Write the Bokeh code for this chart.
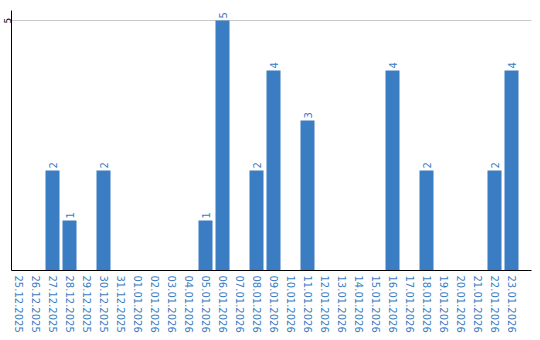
import math
from bokeh.plotting import figure
from bokeh.models import Range1d, FixedTicker, ColumnDataSource
from bokeh.embed import file_html
from bokeh.resources import INLINE
from bokeh.core.properties import value

dates = ["25.12.2025", "26.12.2025", "27.12.2025", "28.12.2025", "29.12.2025",
         "30.12.2025", "31.12.2025", "01.01.2026", "02.01.2026", "03.01.2026",
         "04.01.2026", "05.01.2026", "06.01.2026", "07.01.2026", "08.01.2026",
         "09.01.2026", "10.01.2026", "11.01.2026", "12.01.2026", "13.01.2026",
         "14.01.2026", "15.01.2026", "16.01.2026", "17.01.2026", "18.01.2026",
         "19.01.2026", "20.01.2026", "21.01.2026", "22.01.2026", "23.01.2026"]
counts = [0, 0, 2, 1, 0, 2, 0, 0, 0, 0,
          0, 1, 5, 0, 2, 4, 0, 3, 0, 0,
          0, 0, 4, 0, 2, 0, 0, 0, 2, 4]
y_ticks = [5]

BLUE = "#3b7dc2"
FONT = "DejaVu Sans"

idx = list(range(len(dates)))
nz = [i for i in idx if counts[i] > 0]
src = ColumnDataSource(dict(x=[i for i in nz], top=[counts[i] for i in nz],
                            lbl=[str(counts[i]) for i in nz]))

bar_w = 14 / 17
p = figure(width=540, height=340, output_backend="svg", toolbar_location=None,
           x_range=Range1d(-bar_w / 2, -bar_w / 2 + 520 / 17),
           y_range=Range1d(0, 5.2),
           min_border_left=11, min_border_right=9, min_border_top=10, min_border_bottom=70)
p.outline_line_color = None
p.background_fill_color = "white"
p.border_fill_color = "white"

p.vbar(x="x", top="top", bottom=0, width=bar_w, source=src,
       fill_color=BLUE, line_color=None)
p.text(x="x", y="top", text="lbl", source=src, angle=math.pi / 2,
       text_align="left", text_baseline="middle", y_offset=-2,
       text_color=BLUE, text_font=value(FONT), text_font_size="10px")

p.xgrid.visible = False
p.ygrid.ticker = FixedTicker(ticks=y_ticks)
p.ygrid.grid_line_color = "#c8c8c8"
p.ygrid.grid_line_width = 1

p.xaxis.ticker = FixedTicker(ticks=idx)
p.xaxis.major_label_overrides = {i: d for i, d in enumerate(dates)}
p.xaxis.major_label_orientation = "vertical"
p.xaxis.major_label_text_color = BLUE
p.xaxis.major_label_text_font = FONT
p.xaxis.major_label_text_font_size = "10px"
p.xaxis.major_label_standoff = 5
p.xaxis.major_tick_out = 0
p.xaxis.major_tick_in = 0
p.xaxis.minor_tick_out = 0
p.xaxis.minor_tick_in = 0
p.xaxis.axis_line_color = "black"

p.yaxis.ticker = FixedTicker(ticks=y_ticks)
p.yaxis.major_label_orientation = "vertical"
p.yaxis.major_label_text_color = "black"
p.yaxis.major_label_text_font = FONT
p.yaxis.major_label_text_font_size = "9px"
p.yaxis.major_label_standoff = 1
p.yaxis.major_tick_out = 0
p.yaxis.major_tick_in = 0
p.yaxis.minor_tick_out = 0
p.yaxis.minor_tick_in = 0
p.yaxis.axis_line_color = "black"

open("out.html", "w").write(file_html(p, INLINE))
